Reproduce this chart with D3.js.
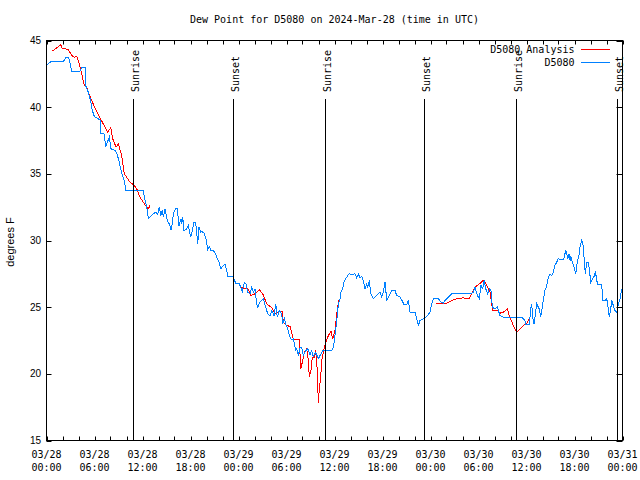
<!DOCTYPE html>
<html>
<head>
<meta charset="utf-8">
<script src="https://cdn.jsdelivr.net/npm/d3@7"></script>
<style>
html,body{margin:0;padding:0;background:#fff;}
svg{display:block;}
</style>
</head>
<body>
<svg id="chart" width="640" height="480"></svg>
<script>
// ---- data (hours after 2024-03-28 00:00 UTC, dew point in °F) ----
const obsHours = [0.03,0.56,2.10,2.40,2.73,2.85,3.15,4.19,4.40,4.90,4.94,5.23,5.53,5.73,5.98,6.69,6.81,7.19,7.40,7.85,8.06,8.56,8.78,9.03,9.19,9.48,9.73,9.90,12.10,12.23,12.53,12.73,13.35,13.65,13.90,14.10,14.28,14.48,14.60,14.81,15.10,15.35,15.56,15.73,15.85,16.15,16.35,16.56,16.81,16.90,17.03,17.19,17.53,17.73,18.03,18.23,18.44,18.65,18.90,19.06,19.28,19.40,19.69,19.94,20.15,20.35,20.56,20.98,21.28,21.56,21.81,22.10,22.31,22.53,22.65,23.06,23.35,23.65,24.10,24.48,24.73,24.94,25.15,25.44,25.65,25.85,26.06,26.28,26.40,26.69,27.10,27.40,27.65,27.94,28.15,28.44,28.65,28.85,29.10,29.40,29.53,29.73,29.90,30.15,30.44,30.65,30.85,30.98,31.15,31.28,31.48,31.69,31.90,32.10,32.44,32.65,32.94,33.15,33.35,33.65,33.98,34.19,34.53,34.81,35.65,35.85,35.98,36.19,36.35,36.48,36.69,36.81,37.03,37.19,37.40,37.81,38.15,38.56,38.78,38.98,39.19,39.40,39.60,39.81,40.03,40.15,40.35,40.53,40.85,41.28,41.69,41.90,42.10,42.31,42.53,42.85,43.15,43.56,43.78,44.19,44.40,44.69,45.03,45.23,45.44,46.06,46.28,46.48,46.69,47.10,47.53,47.94,48.15,48.35,48.98,49.31,49.60,49.81,50.23,50.65,52.94,53.35,53.56,53.78,53.98,54.10,54.31,54.53,54.69,54.90,55.15,55.35,55.56,55.73,56.06,56.35,56.69,57.10,59.40,59.81,59.88,60.35,60.53,60.65,60.78,60.94,61.06,61.28,61.48,61.60,61.78,61.90,62.10,62.31,62.53,62.73,62.94,63.15,63.35,63.56,63.78,63.98,64.19,64.60,64.73,64.90,65.03,65.15,65.31,65.44,65.56,65.73,65.94,66.15,66.35,66.56,66.69,66.90,67.10,67.23,67.35,67.53,67.73,67.85,68.03,68.28,68.44,68.60,68.78,68.85,69.40,69.53,69.81,70.03,70.23,70.35,70.53,70.65,70.85,71.06,71.28,71.48,71.69,71.90];
const obsDewF = [43.13,43.43,43.43,43.70,43.70,43.55,42.70,42.70,42.95,42.95,41.50,41.12,40.45,39.75,39.30,39.05,38.00,38.00,37.05,37.75,36.88,36.75,36.55,36.05,35.55,34.88,34.50,33.75,33.75,33.25,32.50,31.63,32.00,32.12,31.95,32.50,31.88,32.25,31.75,32.38,31.50,31.25,30.80,31.25,32.00,32.42,32.42,31.12,31.63,31.25,31.75,30.75,30.88,31.12,30.25,30.75,31.38,31.38,29.75,31.00,30.62,30.70,30.55,30.13,29.30,29.55,29.25,29.20,28.75,28.37,27.88,28.13,28.25,27.75,27.30,27.30,27.25,26.80,26.75,26.20,26.87,26.75,26.12,26.00,26.50,26.12,26.38,25.25,25.00,25.37,25.63,25.00,24.50,24.37,24.75,24.37,25.25,24.25,24.75,24.50,23.75,24.13,23.75,23.37,22.75,22.55,22.63,22.25,21.80,21.88,21.37,21.95,22.00,21.37,21.75,21.88,21.45,21.75,21.30,21.62,21.13,21.37,21.75,21.75,21.75,22.00,22.50,23.50,24.37,25.25,25.63,26.12,26.38,26.87,27.13,27.50,27.45,27.50,27.20,27.50,27.20,27.30,27.00,26.38,26.75,26.50,27.00,26.00,25.63,25.87,26.12,25.75,26.12,26.87,25.55,25.87,26.25,26.25,25.87,25.75,25.55,25.20,25.20,25.55,24.62,24.62,24.13,23.63,24.00,24.13,24.30,24.62,25.25,25.63,25.63,25.37,25.30,25.50,25.75,26.00,26.00,26.12,26.50,26.00,25.75,25.63,26.63,26.38,27.00,26.38,26.00,26.38,26.25,25.00,24.87,25.00,24.37,24.25,24.25,24.00,23.68,23.68,24.87,25.25,24.25,23.75,24.25,25.25,25.00,24.87,24.25,24.75,25.50,26.25,26.62,27.25,27.50,27.37,27.62,28.13,28.37,28.67,28.55,28.55,28.75,29.30,29.00,28.63,29.00,28.50,28.80,28.37,28.00,27.50,28.37,28.87,29.50,30.00,29.62,28.37,27.50,28.37,28.37,27.88,26.87,27.13,27.30,27.62,27.13,26.70,26.70,25.50,25.50,25.63,24.87,24.25,24.87,25.50,25.13,24.75,24.62,25.25,25.63,26.38];

// analysis series; null marks a gap between segments
const anaHours = [0.73,1.48,1.81,1.98,2.31,2.73,3.15,3.48,3.78,4.10,4.40,4.73,5.03,5.44,5.98,6.69,7.31,7.65,8.03,8.28,8.69,8.98,9.40,9.73,10.44,10.85,11.28,11.69,12.10,12.53,12.73,12.94,
  18.0,
  24.40,24.69,25.19,25.56,26.06,26.60,27.03,27.53,27.73,28.15,28.56,28.78,29.48,29.60,30.03,30.44,30.73,30.85,31.60,31.78,32.03,32.23,32.53,32.73,32.85,33.06,33.23,33.48,33.65,33.85,33.98,34.10,34.28,34.40,34.53,34.69,34.94,35.23,35.56,35.78,36.06,36.19,36.35,36.53,36.69,
  42.0,
  48.69,49.40,50.03,50.65,51.48,52.10,52.85,53.56,53.98,54.69,55.03,55.44,55.78,56.35,56.69,57.10,57.60,57.85,58.35,58.78,59.19,59.60,60.03,60.44];
const anaDewF = [44.20,44.55,44.68,44.38,44.38,44.33,43.88,43.75,43.80,43.25,42.50,41.63,41.50,40.80,40.05,39.20,38.50,38.12,38.45,37.63,37.00,37.25,36.38,35.00,34.37,34.20,33.88,33.25,32.87,32.50,32.38,32.62,
  null,
  26.50,26.38,26.38,25.87,26.00,26.30,26.00,25.25,25.13,25.00,24.50,24.62,24.70,23.87,23.63,23.55,22.87,22.58,22.55,20.38,21.00,21.62,21.88,21.00,19.75,20.25,21.25,21.25,21.75,20.25,17.80,18.88,19.75,21.00,21.37,21.88,22.37,22.87,23.20,22.63,23.25,24.00,24.80,25.50,25.63,
  null,
  25.27,25.30,25.30,25.50,25.67,25.69,25.63,26.50,26.68,27.05,26.63,26.12,24.75,24.75,24.55,24.62,24.87,24.37,23.63,23.12,23.37,23.63,23.80,24.25];

const sunHours = [10.85, 23.25, 34.85, 47.22, 58.73, 71.28];
const sunLabels = ["Sunrise","Sunset","Sunrise","Sunset","Sunrise","Sunset"];
const yTicks = [15,20,25,30,35,40,45];
const titleText = "Dew Point for D5080 on 2024-Mar-28 (time in UTC)";
const yLabel = "degrees F";
const seriesNames = ["D5080 Analysis","D5080"];
const seriesColors = ["#ff0000","#0080ff"];

// ---- drawing ----
const t0 = Date.UTC(2024,2,28,0,0);
const toDate = h => new Date(t0 + h*3600e3);
const svg = d3.select("#chart");
const L = 46.5, R = 622.5, T = 40.5, B = 440.5;
const x = d3.scaleUtc().domain([toDate(0), toDate(72)]).range([L, R]);
const y = d3.scaleLinear().domain([15,45]).range([B, T]);
const mono = "'DejaVu Sans Mono', monospace";
const sans = "'Liberation Sans', Arial, sans-serif";

// title
svg.append("text").attr("x",(L+R)/2).attr("y",23).attr("text-anchor","middle")
  .attr("font-family",mono).attr("font-size",10).attr("fill","#000").text(titleText);

// y axis label
svg.append("text").attr("transform","translate(14,242) rotate(-90)").attr("text-anchor","middle")
  .attr("font-family",sans).attr("font-size",11).attr("fill","#000").text(yLabel);

// y ticks (left labels, inward ticks on both sides)
const gy = svg.append("g");
yTicks.forEach(v => {
  const yy = Math.round(y(v)) + 0.5;
  gy.append("line").attr("x1",L).attr("x2",L+5).attr("y1",yy).attr("y2",yy).attr("stroke","#000");
  gy.append("line").attr("x1",R-6).attr("x2",R).attr("y1",yy).attr("y2",yy).attr("stroke","#000");
  gy.append("text").attr("x",41).attr("y",y(v)+3.5).attr("text-anchor","end")
    .attr("font-family",sans).attr("font-size",10).attr("fill","#000").text(v);
});

// x ticks every 2 h, labels every 6 h
const xTickDates = d3.utcHour.every(2).range(toDate(0), toDate(72.01));
const gx = svg.append("g");
xTickDates.forEach(d => {
  const xx = Math.round(x(d)) + 0.5;
  gx.append("line").attr("x1",xx).attr("x2",xx).attr("y1",B).attr("y2",B-4).attr("stroke","#000");
  gx.append("line").attr("x1",xx).attr("x2",xx).attr("y1",T).attr("y2",T+4).attr("stroke","#000");
});
const fmtD = d3.utcFormat("%m/%d"), fmtT = d3.utcFormat("%H:%M");
d3.utcHour.every(6).range(toDate(0), toDate(72.01)).forEach(d => {
  const t = gx.append("text").attr("x",x(d)).attr("text-anchor","middle")
    .attr("font-family",mono).attr("font-size",10).attr("fill","#000");
  t.append("tspan").attr("x",x(d)).attr("y",458).text(fmtD(d));
  t.append("tspan").attr("x",x(d)).attr("y",471).text(fmtT(d));
});

// series
const obs = obsHours.map((h,i)=>({t:toDate(h), v:obsDewF[i]}));
const ana = anaHours.map((h,i)=>({t:toDate(h), v:anaDewF[i]}));
const line = d3.line().defined(d=>d.v!=null).x(d=>x(d.t)).y(d=>y(d.v));
svg.append("path").datum(ana).attr("d",line).attr("fill","none").attr("stroke",seriesColors[0])
  .attr("stroke-width",1).attr("shape-rendering","crispEdges");
svg.append("path").datum(obs).attr("d",line).attr("fill","none").attr("stroke",seriesColors[1])
  .attr("stroke-width",1).attr("shape-rendering","crispEdges");

// sunrise / sunset
sunHours.forEach((h,i) => {
  const xx = Math.round(x(toDate(h))) + 0.5;
  svg.append("line").attr("x1",xx).attr("x2",xx).attr("y1",99).attr("y2",B).attr("stroke","#000");
  svg.append("text").attr("transform",`translate(${xx+5.5},92) rotate(-90)`).attr("text-anchor","start")
    .attr("font-family",mono).attr("font-size",10).attr("fill","#000").text(sunLabels[i]);
});

// legend
seriesNames.forEach((n,i) => {
  const yy = 49.5 + i*13;
  svg.append("text").attr("x",574.5).attr("y",yy+3.5).attr("text-anchor","end")
    .attr("font-family",mono).attr("font-size",10).attr("fill","#000").text(n);
  svg.append("line").attr("x1",581).attr("x2",610).attr("y1",yy).attr("y2",yy).attr("stroke",seriesColors[i]);
});

// border
svg.append("rect").attr("x",L).attr("y",T).attr("width",R-L).attr("height",B-T)
  .attr("fill","none").attr("stroke","#000").attr("stroke-width",1);
</script>
</body>
</html>
